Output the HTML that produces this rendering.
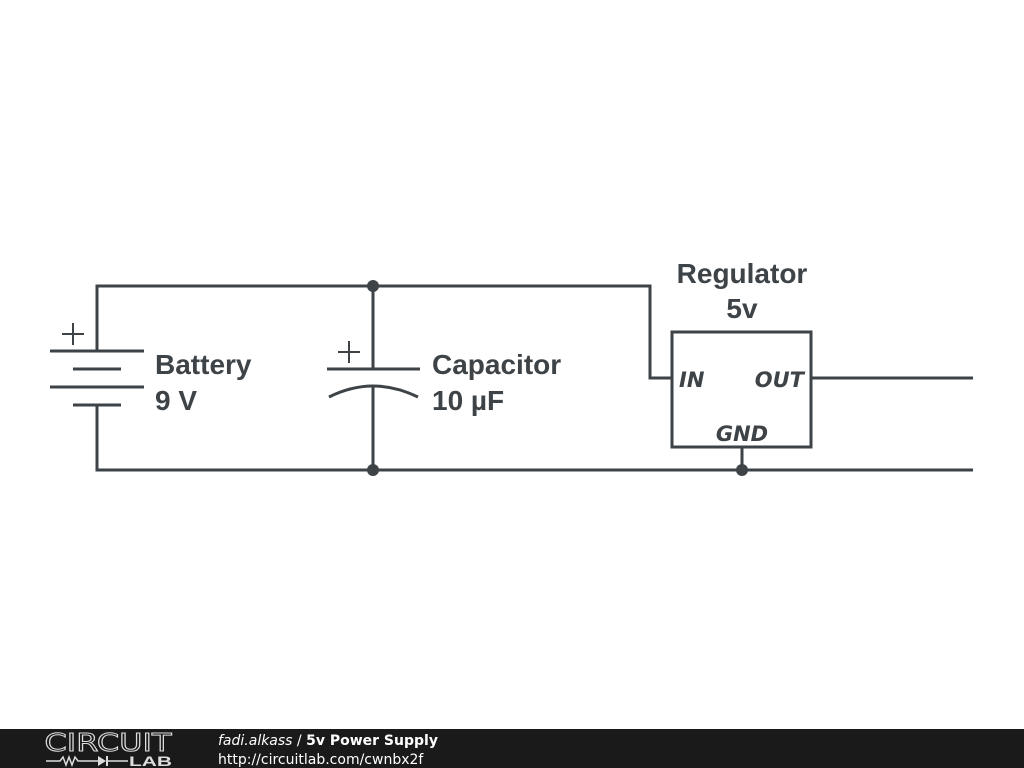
<!DOCTYPE html>
<html><head><meta charset="utf-8"><style>
html,body{margin:0;padding:0;background:#fff;width:1024px;height:768px;overflow:hidden}
</style></head><body>
<svg width="1024" height="768" viewBox="0 0 1024 768" xmlns="http://www.w3.org/2000/svg">
<g stroke="#3d4347" stroke-width="3" fill="none" stroke-linecap="butt">
<polyline points="97,351 97,286 650,286 650,378 672,378"/>
<polyline points="97,405 97,470 973,470"/>
<line x1="50" y1="351" x2="144" y2="351"/>
<line x1="73" y1="369" x2="121" y2="369"/>
<line x1="50" y1="387" x2="144" y2="387"/>
<line x1="73" y1="405" x2="121" y2="405"/>
<line x1="62" y1="334" x2="84" y2="334" stroke-width="2"/>
<line x1="73" y1="323" x2="73" y2="345" stroke-width="2"/>
<line x1="338" y1="352" x2="360" y2="352" stroke-width="2"/>
<line x1="349" y1="341" x2="349" y2="363" stroke-width="2"/>
<line x1="373" y1="286" x2="373" y2="369"/>
<line x1="327" y1="369" x2="420" y2="369"/>
<path d="M329,397 Q373,375 418,397"/>
<line x1="373" y1="386" x2="373" y2="470"/>
<rect x="672" y="332" width="139" height="115"/>
<line x1="811" y1="378" x2="973" y2="378"/>
<line x1="742" y1="447" x2="742" y2="470"/>
</g>
<g fill="#3d4347">
<circle cx="373" cy="286" r="6"/><circle cx="373" cy="470" r="6"/><circle cx="742" cy="470" r="6"/>
<g font-family="Liberation Sans, sans-serif" font-weight="bold" font-size="28">
<text x="155" y="374">Battery</text><text x="155" y="410">9 V</text>
<text x="432" y="374">Capacitor</text><text x="432" y="410">10 µF</text>
<text x="742" y="283" text-anchor="middle">Regulator</text>
<text x="742" y="318" text-anchor="middle">5v</text>
</g>
<g font-family="DejaVu Sans, sans-serif" font-style="italic" font-weight="bold" font-size="21">
<text x="679" y="387">IN</text>
<text x="804" y="387" text-anchor="end">OUT</text>
<text x="742" y="441" text-anchor="middle">GND</text>
</g>
</g>
<rect x="0" y="729" width="1024" height="39" fill="#1a1a1a"/>
<text x="108" y="751" fill="none" stroke="#ddd" stroke-width="1" font-family="DejaVu Sans, sans-serif" font-size="25" text-anchor="middle" textLength="127" lengthAdjust="spacingAndGlyphs">CIRCUIT</text>
<polyline points="46,761 60,761 63,757 66,765 69,757 72,765 75,757 78,761 98,761" fill="none" stroke="#ddd" stroke-width="1.5"/>
<polygon points="98,756 98,766 106,761" fill="#ddd"/>
<line x1="107" y1="756" x2="107" y2="766" stroke="#ddd" stroke-width="2"/>
<line x1="107" y1="761" x2="128" y2="761" stroke="#ddd" stroke-width="1.5"/>
<text x="129" y="766" fill="#ddd" font-family="Liberation Sans, sans-serif" font-weight="bold" font-size="14" textLength="43" lengthAdjust="spacingAndGlyphs">LAB</text>
<text x="218" y="745" fill="#fff" font-family="DejaVu Sans, sans-serif" font-size="14"><tspan font-style="italic">fadi.alkass</tspan> / <tspan font-weight="bold">5v Power Supply</tspan></text>
<text x="218" y="764" fill="#fff" font-family="DejaVu Sans, sans-serif" font-size="14">http://circuitlab.com/cwnbx2f</text>
</svg>
</body></html>
